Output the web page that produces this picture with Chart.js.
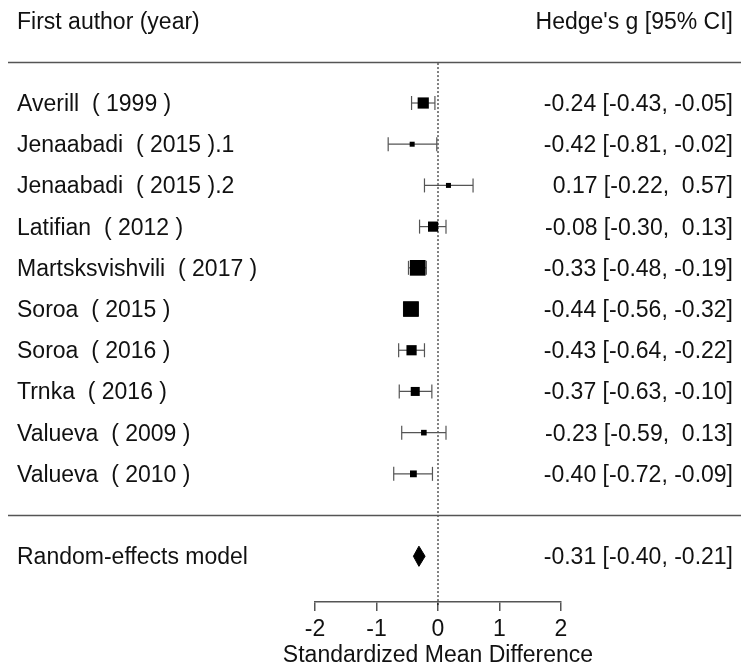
<!DOCTYPE html>
<html>
<head>
<meta charset="utf-8">
<script src="https://cdn.jsdelivr.net/npm/chart.js@4.4.1/dist/chart.umd.min.js"></script>
<style>
    body { margin: 0; background: #fff; }
    #wrap { width: 752px; height: 666px; }
</style>
</head>
<body>
<div id="wrap"><canvas id="forest" width="752" height="666"></canvas></div>
<script>
// Study data
const authors = ['Averill', 'Jenaabadi', 'Jenaabadi', 'Latifian', 'Martsksvishvili', 'Soroa', 'Soroa', 'Trnka', 'Valueva', 'Valueva'];
const years = [1999, 2015, 2015, 2012, 2017, 2015, 2016, 2016, 2009, 2010];
const suffixes = ['', '.1', '.2', '', '', '', '', '', '', ''];
const estimates = [-0.24, -0.42, 0.17, -0.08, -0.33, -0.44, -0.43, -0.37, -0.23, -0.40];
const lower = [-0.43, -0.81, -0.22, -0.30, -0.48, -0.56, -0.64, -0.63, -0.59, -0.72];
const upper = [-0.05, -0.02, 0.57, 0.13, -0.19, -0.32, -0.22, -0.10, 0.13, -0.09];
const weights = [11.2, 5.0, 5.0, 10.2, 15.7, 15.7, 10.2, 9.0, 5.6, 6.8];

// Pooled estimate
const pooledLabel = 'Random-effects model';
const pooledValues = [-0.31, -0.40, -0.21]; // estimate, lower, upper

const xTicks = [-2, -1, 0, 1, 2];
const xTitle = 'Standardized Mean Difference';

const k = estimates.length;
const rows = estimates.map((_, i) => k - i);
const pooledRow = -1;
const FONT = '"Liberation Sans", Arial, sans-serif';
const textColor = '#111';
const lineColor = '#555';

function fmt(v) {
    return (v < 0 ? '' : ' ') + v.toFixed(2);
}
function ciText(est, lo, hi) {
    return fmt(est) + ' [' + fmt(lo) + ', ' + fmt(hi) + ']';
}

const datasets = [];

// Reference line at 0 (drawn behind everything)
datasets.push({
    order: 3,
    data: [{ x: 0, y: k + 0.97 }, { x: 0, y: -2.2 }],
    showLine: true,
    borderColor: '#000',
    borderWidth: 1,
    borderDash: [2, 2],
    pointRadius: 0
});

// Confidence intervals with end caps
rows.forEach((r, i) => {
    datasets.push({
        order: 2,
        data: [{ x: lower[i], y: r }, { x: upper[i], y: r }],
        showLine: true,
        borderColor: lineColor,
        borderWidth: 1.2,
        pointStyle: 'line',
        rotation: 90,
        pointRadius: 7,
        pointBorderColor: lineColor,
        pointBorderWidth: 1.2
    });
});

// Study squares, side proportional to weight
datasets.push({
    order: 0,
    data: rows.map((r, i) => ({ x: estimates[i], y: r })),
    pointStyle: 'rect',
    pointRadius: weights.map(w => w / Math.SQRT2),
    backgroundColor: '#000',
    borderColor: '#000',
    borderWidth: 0
});

// Pooled diamond
const dh = 0.245;
datasets.push({
    order: 0,
    data: [
        { x: pooledValues[1], y: pooledRow },
        { x: pooledValues[0], y: pooledRow + dh },
        { x: pooledValues[2], y: pooledRow },
        { x: pooledValues[0], y: pooledRow - dh },
        { x: pooledValues[1], y: pooledRow }
    ],
    showLine: true,
    fill: 'shape',
    backgroundColor: '#000',
    borderColor: '#000',
    borderWidth: 1,
    pointRadius: 0
});

// Labels, columns, axis title and separator lines
const forestText = {
    id: 'forestText',
    afterDraw(chart) {
        const ctx = chart.ctx;
        const y = chart.scales.y;
        const x = chart.scales.x;
        ctx.save();
        ctx.font = '23px ' + FONT;
        ctx.fillStyle = textColor;
        ctx.textBaseline = 'alphabetic';
        const base = r => y.getPixelForValue(r) + 8;

        ctx.textAlign = 'left';
        ctx.fillText('First author (year)', 17, base(k + 2));
        ctx.textAlign = 'right';
        ctx.fillText("Hedge's g [95% CI]", 733, base(k + 2));

        rows.forEach((r, i) => {
            ctx.textAlign = 'left';
            ctx.fillText(authors[i] + '  ( ' + years[i] + ' )' + suffixes[i], 17, base(r));
            ctx.textAlign = 'right';
            ctx.fillText(ciText(estimates[i], lower[i], upper[i]), 733, base(r));
        });

        ctx.textAlign = 'left';
        ctx.fillText(pooledLabel, 17, base(pooledRow));
        ctx.textAlign = 'right';
        ctx.fillText(ciText(pooledValues[0], pooledValues[1], pooledValues[2]), 733, base(pooledRow));

        // axis title
        ctx.textAlign = 'center';
        ctx.fillText(xTitle, x.getPixelForValue(0), 662);

        ctx.strokeStyle = lineColor;
        ctx.lineWidth = 1.6;
        [k + 1, 0].forEach(r => {
            const py = Math.round(y.getPixelForValue(r)) + 0.5;
            ctx.beginPath();
            ctx.moveTo(8, py);
            ctx.lineTo(741, py);
            ctx.stroke();
        });
        ctx.restore();
    }
};

new Chart(document.getElementById('forest'), {
    type: 'scatter',
    data: { datasets: datasets },
    options: {
        responsive: false,
        animation: false,
        events: [],
        layout: { autoPadding: false, padding: { left: 315, right: 191, top: 0, bottom: 0 } },
        plugins: {
            legend: { display: false },
            tooltip: { enabled: false }
        },
        datasets: { scatter: { clip: false } },
        scales: {
            x: {
                type: 'linear',
                min: -2,
                max: 2,
                afterBuildTicks: scale => { scale.ticks = xTicks.map(v => ({ value: v })); },
                afterFit: scale => { scale.height = 64; },
                ticks: {
                    font: { family: FONT, size: 23 },
                    color: textColor,
                    padding: 5
                },
                grid: {
                    drawOnChartArea: false,
                    drawTicks: true,
                    tickLength: 9,
                    color: lineColor,
                    lineWidth: 1.5
                },
                border: { display: true, color: lineColor, width: 1.5 }
            },
            y: {
                type: 'linear',
                display: false,
                min: -2.11,
                max: k + 2.5
            }
        }
    },
    plugins: [forestText]
});
</script>
</body>
</html>
